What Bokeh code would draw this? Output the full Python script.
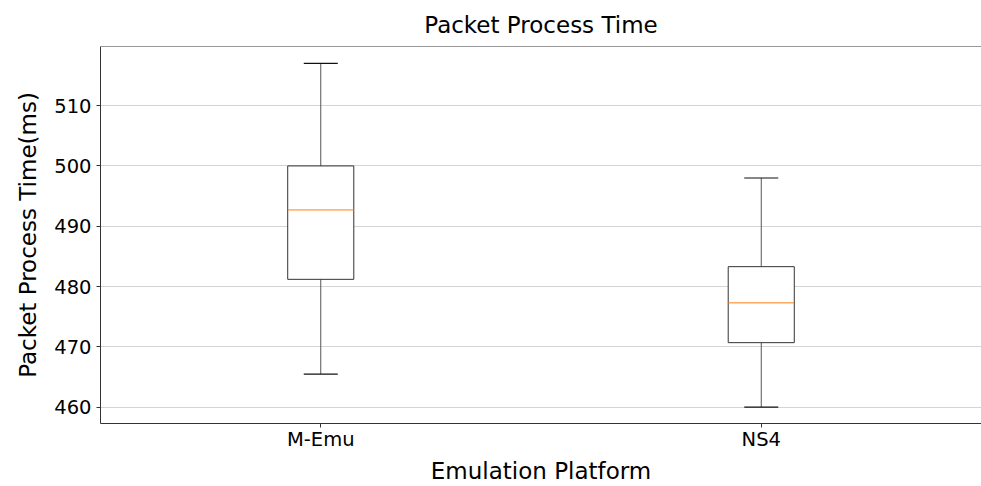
from bokeh.plotting import figure
from bokeh.models import FactorRange, Range1d, FixedTicker, Span
from bokeh.embed import file_html
from bokeh.resources import INLINE

platforms = ["M-Emu", "NS4"]
whisker_low = [465.5, 460.0]
q1 = [481.2, 470.7]
median = [492.7, 477.3]
q3 = [500.0, 483.3]
whisker_high = [517.0, 498.0]
y_ticks = [460, 470, 480, 490, 500, 510]

FONT = "DejaVu Sans"

p = figure(width=981, height=486, output_backend="svg", toolbar_location=None,
           x_range=FactorRange(*platforms, range_padding=0),
           y_range=Range1d(457.3, 519.8),
           title="Packet Process Time",
           min_border_left=100, min_border_right=0, min_border_top=46, min_border_bottom=56)

p.title.align = "center"
p.title.text_font = FONT
p.title.text_font_size = "23px"
p.title.text_font_style = "normal"
p.title.text_color = "#000000"
p.title.offset = 0
p.title.standoff = 17

p.outline_line_color = None
p.xgrid.grid_line_color = None
p.ygrid.grid_line_color = "#d4d4d4"
p.ygrid.grid_line_width = 1
p.yaxis.ticker = FixedTicker(ticks=y_ticks)

for ax in (p.xaxis[0], p.yaxis[0]):
    ax.axis_line_color = "#333333"
    ax.major_tick_line_color = "#333333"
    ax.major_tick_out = 4
    ax.major_tick_in = 0
    ax.minor_tick_line_color = None
    ax.major_label_text_font = FONT
    ax.major_label_text_font_size = "19.5px"
    ax.major_label_text_color = "#000000"
    ax.axis_label_text_font = FONT
    ax.axis_label_text_font_size = "23px"
    ax.axis_label_text_font_style = "normal"
    ax.axis_label_text_color = "#000000"

p.xaxis.axis_label = "Emulation Platform"
p.yaxis.axis_label = "Packet Process Time(ms)"
p.xaxis.axis_label_standoff = 4
p.yaxis.axis_label_standoff = 10
p.xaxis.major_label_standoff = 0
p.yaxis.major_label_standoff = 5

top = Span(location=519.8, dimension="width", line_color="#333333", line_width=1)
p.add_layout(top)

# whiskers
p.segment(x0=platforms, y0=q3, x1=platforms, y1=whisker_high, line_color="#555555", line_width=1)
p.segment(x0=platforms, y0=whisker_low, x1=platforms, y1=q1, line_color="#555555", line_width=1)
# caps
p.scatter(x=platforms, y=whisker_high, marker="dash", size=34, line_color="#111111", line_width=1.2)
p.scatter(x=platforms, y=whisker_low, marker="dash", size=34, line_color="#111111", line_width=1.2)
# boxes
p.vbar(x=platforms, width=0.15, bottom=q1, top=q3, fill_color="white",
       line_color="#333333", line_width=1)
# medians
p.scatter(x=platforms, y=median, marker="dash", size=66, line_color="#ff7f0e", line_width=1)

open("out.html", "w").write(file_html(p, INLINE))
